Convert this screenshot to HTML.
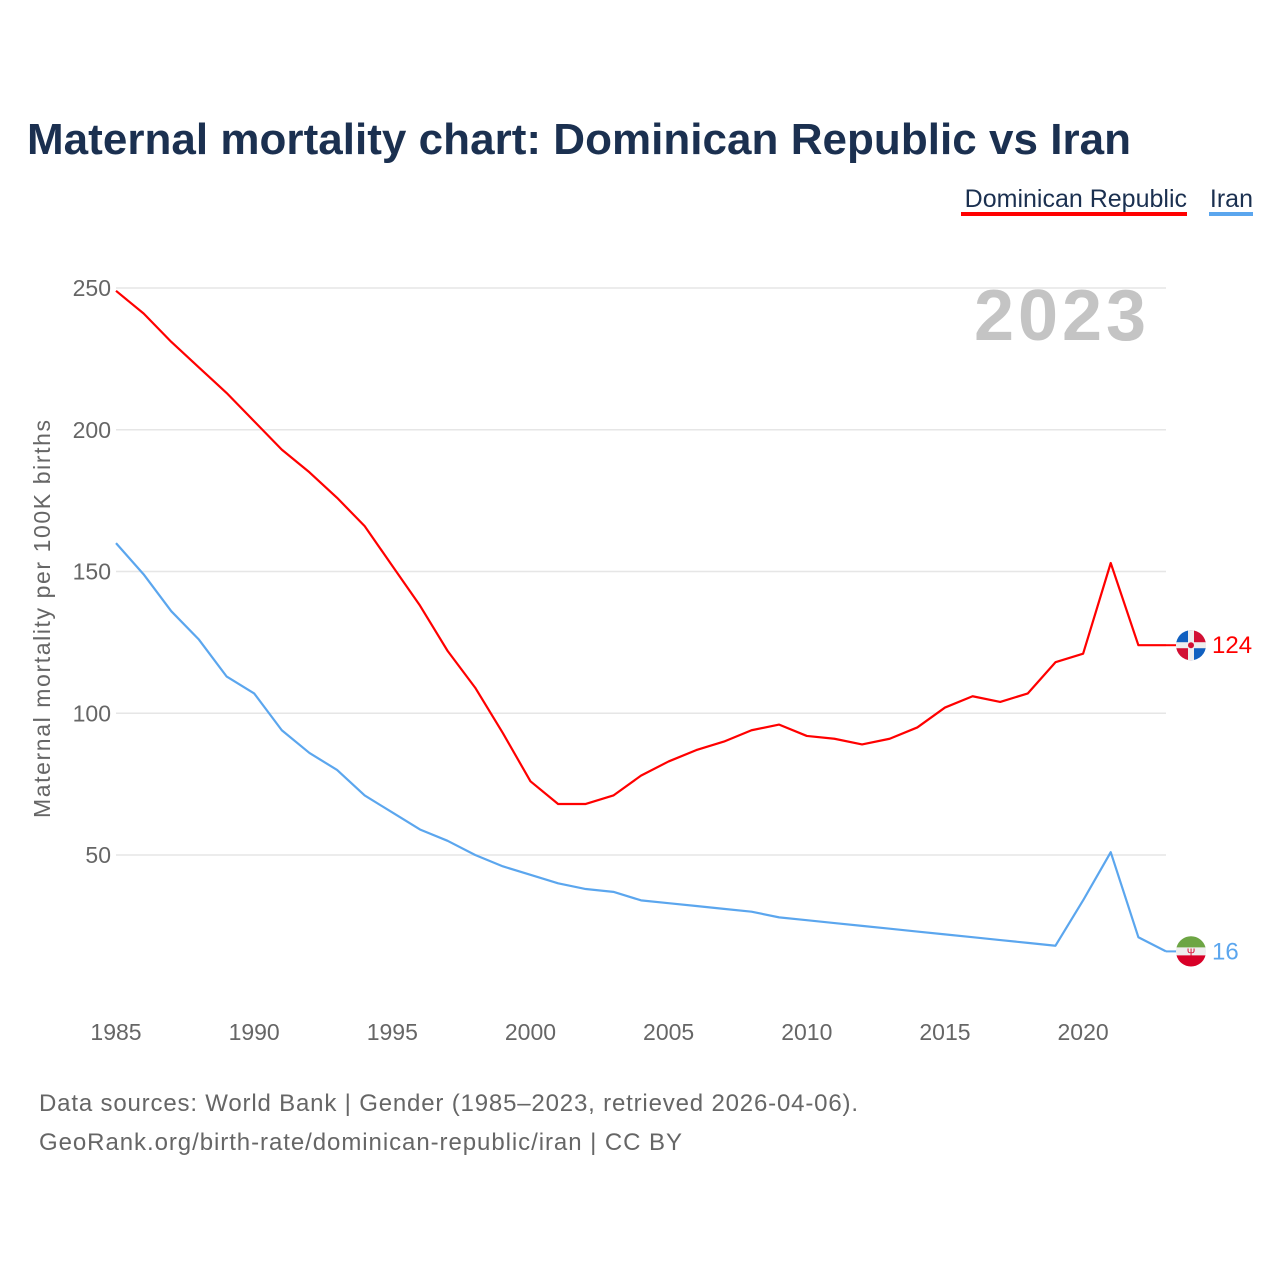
<!DOCTYPE html>
<html><head><meta charset="utf-8"><style>
html,body{margin:0;padding:0;background:#fff;width:1280px;height:1280px;overflow:hidden}
svg{display:block;font-family:"Liberation Sans",sans-serif}
</style></head><body>
<svg id="chart" width="1280" height="1280" viewBox="0 0 1280 1280">
<text x="27" y="154" font-size="44" font-weight="bold" fill="#1b3050" textLength="1104">Maternal mortality chart: Dominican Republic vs Iran</text>
<g>
<text x="1187" y="207" font-size="25" fill="#1b3050" text-anchor="end">Dominican Republic</text>
<rect x="961" y="212" width="226" height="4" fill="#ff0000"/>
<text x="1253" y="207" font-size="25" fill="#1b3050" text-anchor="end">Iran</text>
<rect x="1209" y="212" width="44" height="4" fill="#5ba6ee"/>
</g>
<text x="1146" y="340" font-size="72" font-weight="bold" fill="#c4c4c4" text-anchor="end" textLength="172">2023</text>
<text transform="translate(50,619) rotate(-90)" font-size="23" fill="#666" text-anchor="middle" textLength="398">Maternal mortality per 100K births</text>
<g id="grid"></g><g id="ticks"></g><g id="lines"></g><g id="ends"></g>
<text x="39" y="1111" font-size="24" fill="#666" textLength="819">Data sources: World Bank | Gender (1985–2023, retrieved 2026-04-06).</text>
<text x="39" y="1150" font-size="24" fill="#666" textLength="643">GeoRank.org/birth-rate/dominican-republic/iran | CC BY</text>
</svg>
<script>
const years=[];for(let y=1985;y<=2023;y++)years.push(y);
const domRep=[249,241,231,222,213,203,193,185,176,166,152,138,122,109,93,76,68,68,71,78,83,87,90,94,96,92,91,89,91,95,102,106,104,107,118,121,153,124,124];
const iran=[160,149,136,126,113,107,94,86,80,71,65,59,55,50,46,43,40,38,37,34,33,32,31,30,28,27,26,25,24,23,22,21,20,19,18,34,51,21,16];
const yTicks=[50,100,150,200,250];
const xTicks=[1985,1990,1995,2000,2005,2010,2015,2020];
const NS="http://www.w3.org/2000/svg";
const X=v=>116+(v-1985)*(1050/38);
const Y=v=>996.75-v*2.835;
function mk(tag,attrs,parent){const e=document.createElementNS(NS,tag);for(const k in attrs)e.setAttribute(k,attrs[k]);document.getElementById(parent).appendChild(e);return e;}
yTicks.forEach(t=>{
 const l=mk('line',{x1:116,x2:1166,y1:Y(t),y2:Y(t),stroke:'#e6e6e6','stroke-width':1.5},'grid');
 
 
 const tx=mk('text',{x:111,y:Y(t)+8,'font-size':23,fill:'#666','text-anchor':'end'},'ticks');
 tx.textContent=t;
 
 
});
xTicks.forEach(t=>{
 const tx=mk('text',{x:X(t),y:1040,'font-size':23,fill:'#666','text-anchor':'middle'},'ticks');
 tx.textContent=t;
 
 
});
function series(vals,color,name){
 const p=mk('polyline',{points:vals.map((v,i)=>X(years[i])+','+Y(v)).join(' '),fill:'none',stroke:color,'stroke-width':2.2,'stroke-linejoin':'round'},'lines');
 
 
 const last=vals[vals.length-1];const y=Y(last);
 const c=mk('line',{x1:X(2023),x2:1177,y1:y,y2:y,stroke:color,'stroke-width':2},'ends');
 
 
 const f=mk('circle',{cx:1191,cy:y,r:15,fill:'#eee'},'ends');
 
 
 return y;
}
const y1=series(domRep,'#ff0000','dominican-republic');
const y2=series(iran,'#5ba6ee','iran');
mk('path',{d:`M1176 ${y1} a15 15 0 0 1 15 -15 v15 z`,fill:'#1060c0'},'ends');
mk('path',{d:`M1191 ${y1-15} a15 15 0 0 1 15 15 h-15 z`,fill:'#d21034'},'ends');
mk('path',{d:`M1176 ${y1} a15 15 0 0 0 15 15 v-15 z`,fill:'#d21034'},'ends');
mk('path',{d:`M1191 ${y1+15} a15 15 0 0 0 15 -15 h-15 z`,fill:'#1060c0'},'ends');
mk('rect',{x:1188,y:y1-15,width:6,height:30,fill:'#eee'},'ends');
mk('rect',{x:1176,y:y1-3,width:30,height:6,fill:'#eee'},'ends');
mk('circle',{cx:1191,cy:y1,r:3,fill:'#d21034'},'ends');
mk('path',{d:`M1176.5 ${y2-4} a15 15 0 0 1 29 0 z`,fill:'#6da544'},'ends');
mk('path',{d:`M1176.5 ${y2+4} a15 15 0 0 0 29 0 z`,fill:'#d80027'},'ends');
mk('text',{x:1191,y:y2+4,'font-size':10,fill:'#d80027','text-anchor':'middle'},'ends').textContent='Ψ';
function lbl(y,val,color,name){
 const t=mk('text',{x:1212,y:y+8,'font-size':24,fill:color},'ends');
 t.textContent=val;
 
 
}
lbl(y1,domRep[domRep.length-1],'#ff0000','dominican-republic');
lbl(y2,iran[iran.length-1],'#5ba6ee','iran');
</script>
</body></html>
